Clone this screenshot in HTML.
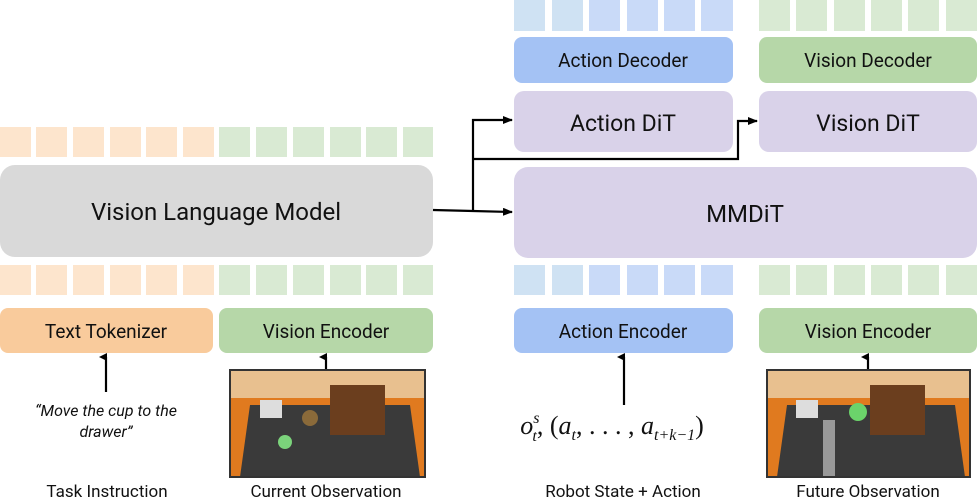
<!DOCTYPE html>
<html><head><meta charset="utf-8"><style>
html,body{margin:0;padding:0;background:#fff;}
svg{display:block;font-family:"Roboto","Liberation Sans",sans-serif;}
</style></head><body>
<svg width="977" height="503" viewBox="0 0 977 503" xmlns="http://www.w3.org/2000/svg">
<defs>
<marker id="ah" markerWidth="10" markerHeight="8" refX="9" refY="4" orient="auto" markerUnits="userSpaceOnUse"><path d="M0,0 L10,4 L0,8 z" fill="#000"/></marker>
<marker id="as" markerWidth="8" markerHeight="8" refX="4" refY="7" orient="auto-start-reverse" markerUnits="userSpaceOnUse"><path d="M0,8 L4,0 L8,8 z" fill="#000"/></marker>
</defs>
<g fill="#fde5cd">
<rect x="0" y="127" width="31" height="30"/><rect x="36" y="127" width="31" height="30"/><rect x="73" y="127" width="31" height="30"/><rect x="110" y="127" width="31" height="30"/><rect x="146" y="127" width="31" height="30"/><rect x="183" y="127" width="31" height="30"/>
<rect x="0" y="265" width="31" height="30"/><rect x="36" y="265" width="31" height="30"/><rect x="73" y="265" width="31" height="30"/><rect x="110" y="265" width="31" height="30"/><rect x="146" y="265" width="31" height="30"/><rect x="183" y="265" width="31" height="30"/>
</g>
<g fill="#d9ead3">
<rect x="219" y="127" width="31" height="30"/><rect x="256" y="127" width="31" height="30"/><rect x="293" y="127" width="31" height="30"/><rect x="330" y="127" width="31" height="30"/><rect x="366" y="127" width="31" height="30"/><rect x="403" y="127" width="30" height="30"/>
<rect x="219" y="265" width="31" height="30"/><rect x="256" y="265" width="31" height="30"/><rect x="293" y="265" width="31" height="30"/><rect x="330" y="265" width="31" height="30"/><rect x="366" y="265" width="31" height="30"/><rect x="403" y="265" width="30" height="30"/>
<rect x="759" y="0" width="31" height="31"/><rect x="796" y="0" width="31" height="31"/><rect x="834" y="0" width="31" height="31"/><rect x="871" y="0" width="31" height="31"/><rect x="908" y="0" width="31" height="31"/><rect x="946" y="0" width="31" height="31"/>
<rect x="759" y="265" width="31" height="30"/><rect x="796" y="265" width="31" height="30"/><rect x="834" y="265" width="31" height="30"/><rect x="871" y="265" width="31" height="30"/><rect x="908" y="265" width="31" height="30"/><rect x="946" y="265" width="31" height="30"/>
</g>
<g>
<rect x="514" y="0" width="31" height="31" fill="#cfe2f3"/><rect x="552" y="0" width="31" height="31" fill="#cfe2f3"/><rect x="589" y="0" width="31" height="31" fill="#c9daf8"/><rect x="627" y="0" width="31" height="31" fill="#c9daf8"/><rect x="664" y="0" width="31" height="31" fill="#c9daf8"/><rect x="701" y="0" width="32" height="31" fill="#c9daf8"/>
<rect x="514" y="265" width="31" height="30" fill="#cfe2f3"/><rect x="552" y="265" width="31" height="30" fill="#cfe2f3"/><rect x="589" y="265" width="31" height="30" fill="#c9daf8"/><rect x="627" y="265" width="31" height="30" fill="#c9daf8"/><rect x="664" y="265" width="31" height="30" fill="#c9daf8"/><rect x="701" y="265" width="32" height="30" fill="#c9daf8"/>
</g>
<rect x="0" y="165" width="433" height="92" rx="15" fill="#d9d9d9"/>
<text x="216" y="220" font-size="24" text-anchor="middle" fill="#111">Vision Language Model</text>
<rect x="0" y="308" width="213" height="45" rx="8" fill="#f9cb9c"/>
<text x="106" y="338" font-size="19" text-anchor="middle" fill="#111">Text Tokenizer</text>
<rect x="219" y="308" width="214" height="45" rx="8" fill="#b6d7a8"/>
<text x="326" y="338" font-size="19" text-anchor="middle" fill="#111">Vision Encoder</text>
<rect x="514" y="37" width="219" height="46" rx="8" fill="#a4c2f4"/>
<text x="623" y="67" font-size="19" text-anchor="middle" fill="#111">Action Decoder</text>
<rect x="759" y="37" width="218" height="46" rx="8" fill="#b6d7a8"/>
<text x="868" y="67" font-size="19" text-anchor="middle" fill="#111">Vision Decoder</text>
<rect x="514" y="91" width="219" height="61" rx="10" fill="#d9d2e9"/>
<text x="623" y="131" font-size="23" text-anchor="middle" fill="#111">Action DiT</text>
<rect x="759" y="91" width="218" height="61" rx="10" fill="#d9d2e9"/>
<text x="868" y="131" font-size="23" text-anchor="middle" fill="#111">Vision DiT</text>
<rect x="514" y="167" width="463" height="91" rx="14" fill="#d9d2e9"/>
<text x="745" y="222" font-size="24" text-anchor="middle" fill="#111">MMDiT</text>
<rect x="514" y="308" width="219" height="45" rx="8" fill="#a4c2f4"/>
<text x="623" y="338" font-size="19" text-anchor="middle" fill="#111">Action Encoder</text>
<rect x="759" y="308" width="218" height="45" rx="8" fill="#b6d7a8"/>
<text x="868" y="338" font-size="19" text-anchor="middle" fill="#111">Vision Encoder</text>
<g stroke="#000" stroke-width="2.2" fill="none">
<path d="M433,210 L473,211 L512,212" marker-end="url(#ah)"/>
<path d="M473,211 L473,120 L512,120" marker-end="url(#ah)"/>
<path d="M473,159 L738,159 L738,121 L757,121" marker-end="url(#ah)"/>
<path d="M106,392 L106,357" marker-end="url(#as)"/>
<path d="M326,370 L326,357" marker-end="url(#as)"/>
<path d="M624,405 L624,357" marker-end="url(#as)"/>
<path d="M868,370 L868,357" marker-end="url(#as)"/>
</g>
<g>
<rect x="230" y="370" width="195" height="107" fill="#d9a56e"/>
<rect x="230" y="370" width="195" height="30" fill="#e8c08f"/>
<polygon points="230,398 425,398 425,477 230,477" fill="#e07a1f"/>
<polygon points="250,405 410,405 420,477 240,477" fill="#3a3a3a"/>
<rect x="330" y="385" width="55" height="50" fill="#6b3e1e"/>
<rect x="260" y="400" width="22" height="18" fill="#ddd"/>
<circle cx="310" cy="418" r="8" fill="#8a6a3a"/>
<circle cx="285" cy="442" r="7" fill="#7bd37b"/>
<rect x="230" y="370" width="195" height="107" fill="none" stroke="#333" stroke-width="2"/>
</g>
<g>
<rect x="767" y="370" width="203" height="107" fill="#d9a56e"/>
<rect x="767" y="370" width="203" height="30" fill="#e8c08f"/>
<polygon points="767,398 970,398 970,477 767,477" fill="#e07a1f"/>
<polygon points="787,405 955,405 965,477 777,477" fill="#3a3a3a"/>
<rect x="870" y="385" width="55" height="50" fill="#6b3e1e"/>
<rect x="796" y="400" width="22" height="18" fill="#ddd"/>
<circle cx="858" cy="412" r="9" fill="#6bd36b"/>
<rect x="823" y="420" width="12" height="57" fill="#999"/>
<rect x="767" y="370" width="203" height="107" fill="none" stroke="#333" stroke-width="2"/>
</g>
<text x="106" y="416" font-size="16" font-style="italic" text-anchor="middle" fill="#111">“Move the cup to the</text>
<text x="106" y="437" font-size="16" font-style="italic" text-anchor="middle" fill="#111">drawer”</text>
<text x="612" y="434" font-size="26" font-family="Liberation Serif,serif" font-style="italic" text-anchor="middle" fill="#111">o<tspan font-size="16" dy="-11">s</tspan><tspan font-size="16" dx="-7" dy="18">t</tspan><tspan dy="-7" font-style="normal">, (</tspan>a<tspan font-size="16" dy="6">t</tspan><tspan dy="-6" font-style="normal">, . . . , </tspan>a<tspan font-size="16" dy="6">t+k−1</tspan><tspan dy="-6" font-style="normal">)</tspan></text>
<text x="107" y="497" font-size="17" text-anchor="middle" fill="#111">Task Instruction</text>
<text x="326" y="497" font-size="17" text-anchor="middle" fill="#111">Current Observation</text>
<text x="623" y="497" font-size="17" text-anchor="middle" fill="#111">Robot State + Action</text>
<text x="868" y="497" font-size="17" text-anchor="middle" fill="#111">Future Observation</text>
</svg>
</body></html>
